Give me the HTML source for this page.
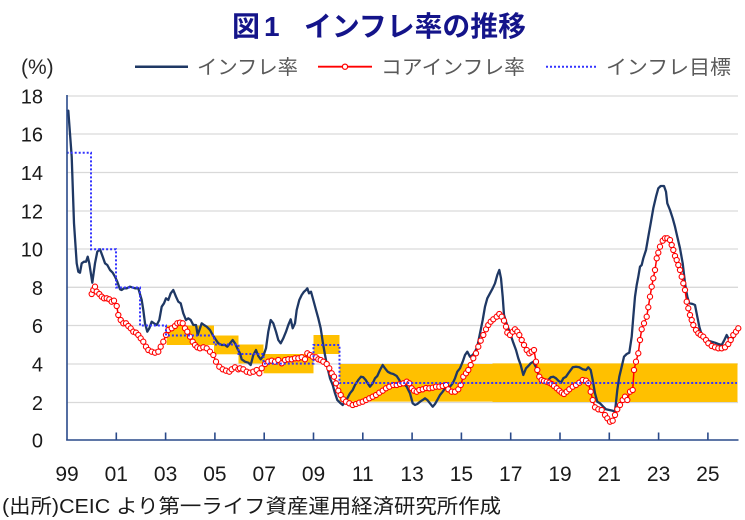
<!DOCTYPE html>
<html>
<head>
<meta charset="utf-8">
<style>
html,body{margin:0;padding:0;background:#fff;}
svg{display:block;}
text{font-family:"Liberation Sans","Noto Sans CJK JP",sans-serif;}
.jp{font-family:"Liberation Sans","Noto Sans CJK JP",sans-serif;}
</style>
</head>
<body>
<svg width="745" height="520" viewBox="0 0 745 520" xmlns="http://www.w3.org/2000/svg">
<defs>
<marker id="m" markerUnits="userSpaceOnUse" markerWidth="8" markerHeight="8" refX="4" refY="4" viewBox="0 0 8 8">
<circle cx="4" cy="4" r="2.6" fill="#fff" stroke="#ff0000" stroke-width="1.1"/>
</marker>
</defs>
<rect width="745" height="520" fill="#fff"/>

<!-- Title -->
<text x="232" y="36" font-size="28" font-weight="bold" fill="#14148a" class="jp">図</text>
<text x="264" y="36" font-size="28" font-weight="bold" fill="#14148a">1</text>
<text x="304" y="36" font-size="28" font-weight="bold" fill="#14148a" class="jp" textLength="222" lengthAdjust="spacingAndGlyphs">インフレ率の推移</text>

<!-- Legend -->
<text x="21" y="74" font-size="21" fill="#262626">(%)</text>
<line x1="135" y1="66.7" x2="188" y2="66.7" stroke="#1f3864" stroke-width="2.5"/>
<text x="197" y="74" font-size="20" fill="#595959" class="jp" textLength="101" lengthAdjust="spacingAndGlyphs">インフレ率</text>
<line x1="318" y1="66.7" x2="372" y2="66.7" stroke="#ff0000" stroke-width="1.8"/>
<circle cx="345" cy="66.7" r="2.6" fill="#fff" stroke="#ff0000" stroke-width="1.2"/>
<text x="381" y="74" font-size="20" fill="#595959" class="jp" textLength="144" lengthAdjust="spacingAndGlyphs">コアインフレ率</text>
<line x1="546" y1="66.7" x2="598" y2="66.7" stroke="#3333ff" stroke-width="2" stroke-dasharray="2 2"/>
<text x="606" y="74" font-size="20" fill="#595959" class="jp" textLength="125" lengthAdjust="spacingAndGlyphs">インフレ目標</text>

<!-- Gridlines -->
<g stroke="#d9d9d9" stroke-width="1.3">
<line x1="67" y1="96" x2="738" y2="96"/>
<line x1="67" y1="134" x2="738" y2="134"/>
<line x1="67" y1="172.5" x2="738" y2="172.5"/>
<line x1="67" y1="211" x2="738" y2="211"/>
<line x1="67" y1="249" x2="738" y2="249"/>
<line x1="67" y1="287.3" x2="738" y2="287.3"/>
<line x1="67" y1="325.5" x2="738" y2="325.5"/>
<line x1="67" y1="364" x2="738" y2="364"/>
<line x1="67" y1="402.5" x2="738" y2="402.5"/>
</g>

<!-- Target bands -->
<g fill="#ffc000">
<rect x="166.7" y="325.5" width="47.3" height="19.5"/>
<rect x="214" y="335.5" width="24.5" height="18.8"/>
<rect x="238.5" y="344.5" width="25" height="19"/>
<rect x="263.5" y="354" width="50" height="19.3"/>
<rect x="313.5" y="335" width="26" height="19"/>
<rect x="339.5" y="364" width="153" height="37.6"/>
<rect x="492.5" y="363.4" width="245" height="38.6"/>
</g>

<!-- Y labels -->
<g font-size="20" fill="#1a1a1a" text-anchor="end">
<text x="43" y="103.5">18</text>
<text x="43" y="141.5">16</text>
<text x="43" y="180">14</text>
<text x="43" y="218.5">12</text>
<text x="43" y="256.5">10</text>
<text x="43" y="294.8">8</text>
<text x="43" y="333">6</text>
<text x="43" y="371.5">4</text>
<text x="43" y="410">2</text>
<text x="43" y="447.5">0</text>
</g>

<!-- Headline inflation -->
<polyline fill="none" stroke="#1f3864" stroke-width="2.3" stroke-linejoin="round" points="66.7,111.7 68.3,110.7 71.7,156.7 74,223.3 76.7,263.3 78.3,271.7 80,272.7 81.7,263.3 84,261.7 86,261.7 87.7,256.7 89.3,263.3 92.3,282.7 95,263.3 97.3,251.7 100,249.3 102.7,256.7 105,263.3 107.3,265 110,270 112.7,272.7 115,276.7 117.3,281.7 120,289.3 121.7,290 124,288.3 126.7,288.3 130,286.7 135,288.3 138.3,288.3 141.7,300 143.3,310 145,323.3 147.3,331.7 149.3,328.3 151.7,321.7 154,323.3 156.7,325 159.3,320 161.7,306.7 164,303.3 166,298.3 168.3,300 170.7,293.3 173.3,290 176,296.7 178.3,301.7 180.7,303.3 183.3,313.3 186,320 188.3,318.3 190.7,320 193.3,325 196,325 197.7,335 200,328.3 201.7,323.3 204,325 206.7,326.7 210,330 212.7,335 216,340 218.3,343.3 221.7,345 225,345 227.3,346.7 230,343.3 232.7,340 235,343.3 237.3,348.3 240,353.3 241.7,359.3 245,361.7 248.3,362.7 250.7,365 253.3,355 256,350 258.3,356 260.7,359.3 263.3,356 266,348.3 268.3,331.7 270.7,320 273.3,323.3 276,331.7 278.3,340 280.7,343.3 283.3,338.3 286,331.7 288.3,325 290.7,319.3 292.7,328.3 295,323.3 296.7,310 299.3,300 301.7,295 304,291.7 306,290 307.3,288.3 309,293.3 311,291.7 313.3,300 316,310 318.3,318.3 320.7,328.3 322.7,341.7 325,355 327.3,366.7 330,378.3 332.7,385 335,393.3 337.3,400 340,402.7 342.7,405 345,401.7 347.3,398.3 350,393.3 352.7,390 355,385 358.3,380 361,376.7 363.3,377.3 365.7,380 367.7,383.3 370,386.7 372.7,383.3 375,378.3 377.3,376 380,370 382.7,365 385,368.3 387.7,371.7 390.7,373.3 393.3,374 396.7,376 399.3,380 400,381.7 403.3,383.3 406.7,386.7 410,393.3 412.7,403.3 415,405 417.3,404 420,401.7 422.7,400 425,398.3 427.3,400 430,403.3 432.7,406.7 435,404 437.3,400 440,395 442.7,391.7 445,388.3 447.3,386.7 450,386.7 452.7,383.3 455,378.3 457.3,371.7 460,368.3 462.7,361.7 465,355 467.3,351.7 470,356.7 472.7,355 475,351.7 477.3,346.7 480,333.3 482.7,320 485,306.7 487.3,298.3 490,293.3 492.7,288.3 495,283.3 497.3,275 499.3,270 501,278.3 502.7,296.7 504,315 506,321.7 508.3,328.3 510.7,335 513.3,342.7 516,350 518.3,358.3 520.7,365 523.3,375 526,368.3 528.3,366 530.7,363.3 533.3,361.7 536,367.3 538.3,374 540.7,378.3 543.3,380.7 546,382.7 548.3,380 550.7,377.3 553.3,376.7 556,378.3 558.3,380.7 561,382.7 563.3,378.3 566,376.7 568.3,373.3 572.7,367.3 576,366.7 579.3,367.3 582.7,369.3 586,370 588.3,367.3 590.7,370 592.7,380 595,393.3 597.3,401.7 600,403.3 603.3,406.7 606,409.3 609.3,410 612.7,410.7 615,411.7 617.3,390 619.3,376.7 621.7,366.7 624,356.7 626.7,354 629.3,352.7 631.7,336.7 633.3,316.7 635,296.7 636.7,285 638.3,276.7 640,266.7 641.7,265 643.3,258.3 646,250 648.3,236.7 650.7,223.3 653.3,208.3 656,196.7 658.3,188.3 660.7,186 664,186 666,191.7 667.3,203.3 670,210 672.7,218.3 675,226.7 677.3,236.7 680,248.3 682.7,263.3 685,283.3 687.3,296.7 689.3,303.3 692.7,304 695,305 697.3,316.7 699.3,326.7 701.7,335 705,338.3 708.3,340.7 711.7,341.7 715,342.7 718.3,344 721.7,345 724,340.7 726.7,335 729.3,340 732.7,338.3 735,335 736.7,332.7"/>

<!-- Core inflation -->
<polyline fill="none" stroke="#ff0000" stroke-width="1.5" stroke-linejoin="round" marker-start="url(#m)" marker-mid="url(#m)" marker-end="url(#m)" points="91.7,294 93.3,290 95,286.7 96.7,291.7 99.3,294 101.7,296.7 104,298.3 106.7,298.3 109.3,299.3 111.7,301.7 114,300.7 116.7,306 118.3,315 120.7,320 123.3,323.3 126,323.3 128.3,326 130.7,328.3 133.3,331.7 136,332.7 138.3,335 140.7,338.3 143.3,341.7 146,346.7 148.3,350 151.7,351.7 155,352.7 158.3,351.7 160.7,346.7 163.3,341.7 166,335 168.3,330 171.7,328.3 175,326 177.3,323.3 180,322.7 182.7,323.3 185,328.3 187.3,331.7 190,336.7 192.7,341.7 195,345 197.3,347.3 200,348.3 203.3,347.3 206.7,348.3 210,351.7 213.3,355 216,361.7 219.3,366.7 222.7,369.3 226,370.7 229.3,371.7 231.7,369.3 235,367.3 238.3,369.3 240,368.3 243.3,369.3 246.7,371.7 250,372.7 253.3,371.7 256.7,370 259.3,373.3 261.7,368.3 265,364 268.3,361.7 271.7,360.7 275,361.7 278.3,360 281.7,363.3 285,360 288.3,359.3 291.7,359.3 295,358.3 298.3,358.3 301.7,357.3 305,359.3 307.3,353.3 310,355 312.7,356.7 316,357.3 318.3,359.3 320.7,360 323.3,361.7 326.7,364 329.3,368.3 331.7,373.3 334,376.7 336,383.3 338.3,390.7 340.7,395 343.3,399.3 346,401.7 349.3,403.3 352.7,405 356,404 359.3,402.7 362.7,401.7 366,400 369.3,398.3 372.7,396.7 376,395 379.3,392.7 382.7,390.7 386,388.3 389.3,386.7 393.3,385 396.7,385 400,384 403.3,383.3 406.7,381.7 409.3,383.3 411.7,388.3 414,390.7 416.7,391.7 419.3,390 422.7,389.3 426,388 429.3,388.3 432.7,387.7 436,386.7 439.3,386.7 442.7,386 446,385 448.3,389.3 451.7,391.7 455,391.7 458.3,389.3 460.7,385 463.3,376.7 466,373.3 468.3,370 470.7,365 473.3,358.3 476,353.3 478.3,346.7 480.7,340.7 483.3,335 486,329.3 488.3,325 490.7,321.7 493.3,319.3 496.7,316.7 499.3,314 501.7,316.7 504,320.7 506,326.7 507.3,332.7 510,335 512.7,331.7 515,329.3 517.3,331.7 519.3,335 521.7,340 524,345 526.7,350 529.3,353.3 531.7,351.7 534,350 536,361.7 537.3,370 539.3,376.7 541.7,380 544,381 546.7,381.7 549.3,382.7 551.7,384 554,386 556.7,388.3 559.3,390.7 561.7,392.7 564,394 566.7,391.7 569.3,389.3 572.7,386.7 576,385 579.3,382.7 582.7,380 586,380.7 588.3,383.3 590.7,391.7 592.7,400 595,407.3 598.3,409.3 601.7,410 605,415 607.3,418.3 610,421.7 612.7,420.7 615,415 617.3,409.3 620,405 622.7,400 625,396.7 627.3,400 630,391.7 632.7,390 634,370 636,361.7 638.3,353.3 640,340 641.7,329.3 644,323.3 646.7,316.7 648.3,307.3 650,296.7 651.7,286.7 653.3,278.3 655,270 656.7,258.3 658.3,252.7 660,246.7 662.7,240.7 665,238.3 667.3,238.3 670,240 671.7,245 673.3,250 675,256 676.7,260 678.3,265 680,270 681.7,276.7 683.3,283.3 685,290 686.7,301.7 688.3,308.3 690,315 691.7,320 693.3,325 696,330 698.3,333.3 700.7,335 703.3,336.7 706,340 708.3,343.3 711.7,346 715,347.3 718.3,348.3 721.7,348.3 725,347.3 728.3,344 730.7,340 733.3,335 736,331.7 738.3,328.3"/>

<!-- Target -->
<path d="M66.7,152.7 H91 V249.3 H116 V287.5 H140 V325.5 H166 V335.5 H214 V344.5 H238.5 V354 H263.5 V363.6 H313.5 V345 H339.5 V383 H737" fill="none" stroke="#3333ff" stroke-width="2" stroke-dasharray="2 2"/>

<!-- Axes -->
<g stroke="#2a4a8a" stroke-width="1.6">
<line x1="67" y1="95" x2="67" y2="440.5"/>
<line x1="66.2" y1="440" x2="738.5" y2="440"/>
<line x1="116.3" y1="432.5" x2="116.3" y2="440"/>
<line x1="165.6" y1="432.5" x2="165.6" y2="440"/>
<line x1="214.9" y1="432.5" x2="214.9" y2="440"/>
<line x1="264.2" y1="432.5" x2="264.2" y2="440"/>
<line x1="313.5" y1="432.5" x2="313.5" y2="440"/>
<line x1="362.8" y1="432.5" x2="362.8" y2="440"/>
<line x1="412.1" y1="432.5" x2="412.1" y2="440"/>
<line x1="461.4" y1="432.5" x2="461.4" y2="440"/>
<line x1="510.7" y1="432.5" x2="510.7" y2="440"/>
<line x1="560" y1="432.5" x2="560" y2="440"/>
<line x1="609.3" y1="432.5" x2="609.3" y2="440"/>
<line x1="658.6" y1="432.5" x2="658.6" y2="440"/>
<line x1="707.9" y1="432.5" x2="707.9" y2="440"/>
</g>

<!-- X labels -->
<g font-size="21" fill="#1a1a1a" text-anchor="middle">
<text x="67" y="481">99</text>
<text x="116.3" y="481">01</text>
<text x="165.6" y="481">03</text>
<text x="214.9" y="481">05</text>
<text x="264.2" y="481">07</text>
<text x="313.5" y="481">09</text>
<text x="362.8" y="481">11</text>
<text x="412.1" y="481">13</text>
<text x="461.4" y="481">15</text>
<text x="510.7" y="481">17</text>
<text x="560" y="481">19</text>
<text x="609.3" y="481">21</text>
<text x="658.6" y="481">23</text>
<text x="707.9" y="481">25</text>
</g>

<!-- Source -->
<text x="2" y="513" font-size="20" fill="#1a1a1a" class="jp" textLength="499" lengthAdjust="spacingAndGlyphs">(出所)CEIC より第一ライフ資産運用経済研究所作成</text>
</svg>
</body>
</html>
